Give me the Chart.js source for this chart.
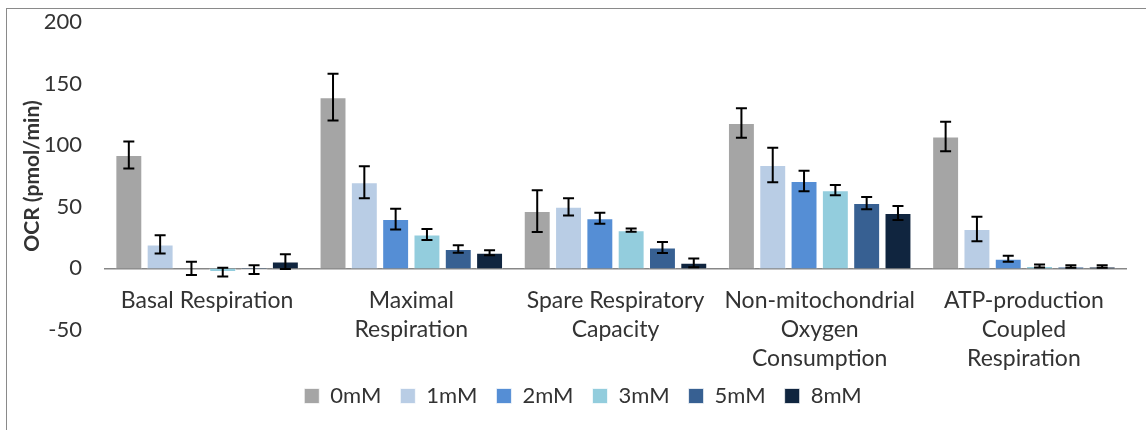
<!DOCTYPE html>
<html>
<head>
<meta charset="utf-8">
<script src="https://cdn.jsdelivr.net/npm/chart.js@4.4.1/dist/chart.umd.min.js"></script>
<style>
  html, body { margin: 0; padding: 0; background: #fff; }
  .wrap { position: relative; width: 1146px; height: 430px; overflow: hidden; }
  /* outer chart frame */
  .frame { position: absolute; left: 6px; top: 8px; width: 1200px; height: 500px; border: 1px solid #8a8a8a; }
  canvas { position: absolute; left: 0; top: 0; }
</style>
</head>
<body>
<div class="wrap">
  <div class="frame"></div>
  <canvas id="ocrChart" width="1146" height="430"></canvas>
</div>
<script>
const categories = [
  'Basal Respiration',
  ['Maximal', 'Respiration'],
  ['Spare Respiratory', 'Capacity'],
  ['Non-mitochondrial', 'Oxygen', 'Consumption'],
  ['ATP-production', 'Coupled', 'Respiration']
];

const seriesNames = ['0mM', '1mM', '2mM', '3mM', '5mM', '8mM'];

// mean OCR per group
const ocr0mM = [92, 139, 46.5, 118, 107];
const ocr1mM = [19.5, 70, 50, 84, 32];
const ocr2mM = [0, 40, 40.7, 71, 7.8];
const ocr3mM = [-3, 27.5, 31, 63.5, 2];
const ocr5mM = [-1, 15.7, 17, 53, 1.5];
const ocr8mM = [5.5, 12.7, 4.5, 45, 1.5];

// error (+/-)
const err0mM = [11, 19, 17, 12, 12];
const err1mM = [7.5, 13, 7, 14, 10];
const err2mM = [5.3, 8.5, 4.5, 8.3, 2.4];
const err3mM = [3.5, 4.5, 1.3, 4.2, 1.2];
const err5mM = [3.5, 3, 4.4, 5, 1];
const err8mM = [6, 2, 3.5, 5.7, 1];

const yTicks = [-50, 0, 50, 100, 150, 200];

const colors = ['#a5a5a5', '#b9cde5', '#558ed5', '#93cddd', '#376092', '#10253f'];

const values = [ocr0mM, ocr1mM, ocr2mM, ocr3mM, ocr5mM, ocr8mM];
const errors = [err0mM, err1mM, err2mM, err3mM, err5mM, err8mM];

const FONT = 'Lato, "Open Sans", sans-serif';
const TEXT = '#333333';

// draws the +/- error bars on top of each bar
const errorBars = {
  id: 'errorBars',
  afterDatasetsDraw(chart) {
    const ctx = chart.ctx;
    const y = chart.scales.y;
    ctx.save();
    ctx.strokeStyle = '#000';
    ctx.lineWidth = 2;
    chart.data.datasets.forEach((ds, i) => {
      const meta = chart.getDatasetMeta(i);
      meta.data.forEach((bar, j) => {
        const v = ds.data[j];
        const e = ds.errors[j];
        const top = y.getPixelForValue(v + e);
        const bot = y.getPixelForValue(v - e);
        const cap = 5.5;
        ctx.beginPath();
        ctx.moveTo(bar.x, top);
        ctx.lineTo(bar.x, bot);
        ctx.moveTo(bar.x - cap, top);
        ctx.lineTo(bar.x + cap, top);
        ctx.moveTo(bar.x - cap, bot);
        ctx.lineTo(bar.x + cap, bot);
        ctx.stroke();
      });
    });
    ctx.restore();
  }
};

const ctx = document.getElementById('ocrChart').getContext('2d');
new Chart(ctx, {
  type: 'bar',
  data: {
    labels: categories,
    datasets: seriesNames.map((name, i) => ({
      label: name,
      data: values[i],
      errors: errors[i],
      backgroundColor: colors[i],
      borderColor: 'rgba(255,255,255,0.7)',
      borderWidth: 1,
      categoryPercentage: 0.92,
      barPercentage: 0.86
    }))
  },
  options: {
    responsive: false,
    animation: false,
    layout: {
      // extra left padding keeps the legend centred under the bars
      padding: { left: 40, right: 20, top: 22, bottom: 13 }
    },
    scales: {
      x: {
        position: { y: 0 },
        grid: { display: false },
        border: { display: true, color: '#878787', width: 1.5 },
        ticks: {
          color: TEXT,
          font: { family: FONT, size: 23, lineHeight: 1.26 },
          padding: 10,
          maxRotation: 0,
          autoSkip: false
        }
      },
      y: {
        min: -50,
        max: 200,
        afterBuildTicks(scale) {
          scale.ticks = yTicks.map(v => ({ value: v }));
        },
        afterFit(scale) {
          scale.width = 65;
          scale.paddingTop = 0;
          scale.paddingBottom = 0;
        },
        grid: { display: false, drawTicks: false },
        border: { display: false },
        ticks: {
          color: TEXT,
          font: { family: FONT, size: 22 },
          padding: 23
        },
        title: {
          display: true,
          text: 'OCR (pmol/min)',
          color: TEXT,
          font: { family: FONT, size: 21, weight: 'bold', lineHeight: 1.2 },
          padding: { top: -20, bottom: 0 }
        }
      }
    },
    plugins: {
      legend: {
        position: 'bottom',
        title: {
          display: true,
          text: '',
          font: { size: 10, lineHeight: 1 },
          padding: { top: 26, bottom: 0 }
        },
        labels: {
          boxWidth: 15,
          boxHeight: 15,
          padding: 19,
          color: TEXT,
          font: { family: FONT, size: 22 }
        }
      },
      tooltip: { enabled: false }
    }
  },
  plugins: [errorBars]
});
</script>
</body>
</html>
